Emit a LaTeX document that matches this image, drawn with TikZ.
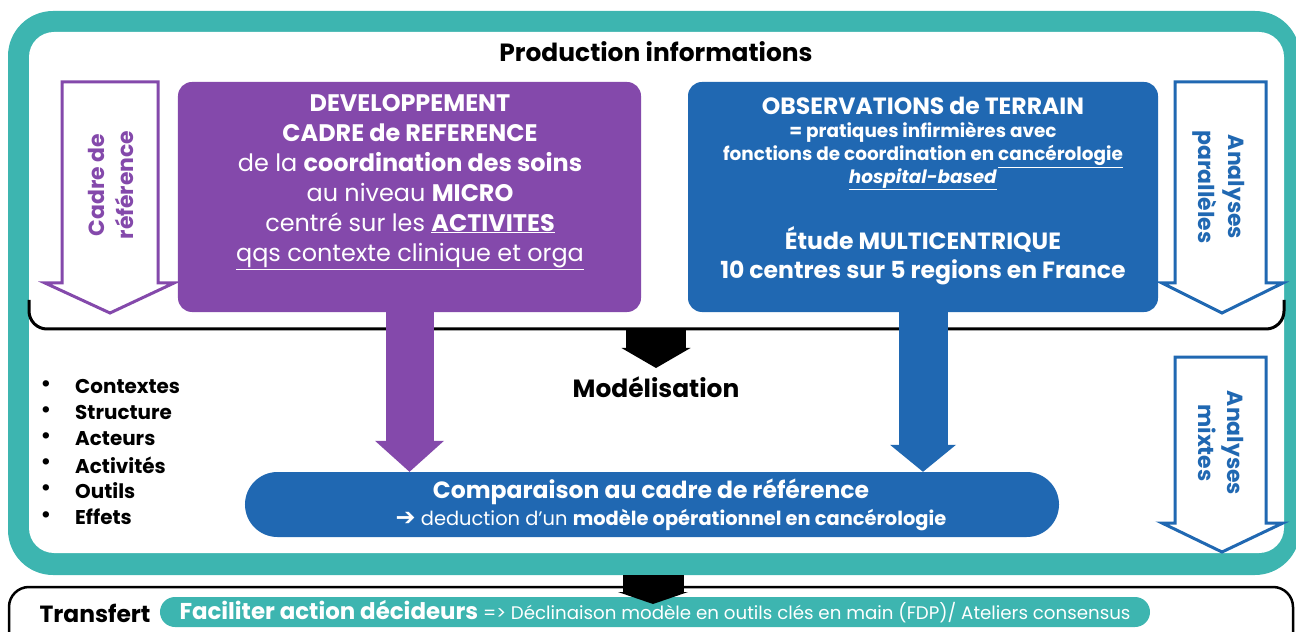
\documentclass[tikz,border=0pt]{standalone}
\usepackage{fontspec}
\setmainfont{Poppins}
\newfontfamily\arrowfont{DejaVu Sans}
\usetikzlibrary{positioning, arrows.meta, shapes.misc, calc}
\definecolor{tealband}{HTML}{3DB5B0}
\definecolor{refpurple}{HTML}{8449AB}
\definecolor{fieldblue}{HTML}{2068B2}
\tikzset{
  panel/.style    = {rectangle, rounded corners=14bp, inner sep=0pt},
  pill/.style     = {rounded rectangle, inner sep=0pt},
  boxtext/.style  = {font=\fontsize{24}{30}\selectfont, text=white, align=center, inner sep=0pt},
  boxhead/.style  = {font=\bfseries\fontsize{23.6}{29}\selectfont, text=white, align=center, inner sep=0pt},
  boxsmall/.style = {font=\bfseries\fontsize{18.5}{23}\selectfont, text=white, align=center, inner sep=0pt},
  title/.style    = {font=\bfseries\fontsize{25}{28}\selectfont, inner sep=0pt},
  listitem/.style = {font=\bfseries\fontsize{20}{22}\selectfont, inner sep=0pt, anchor=west},
  rotlabel/.style = {font=\bfseries\fontsize{22}{30}\selectfont, align=center, inner sep=0pt},
  hollow/.style   = {line width=3bp, fill=white, line join=miter},
  fat/.style n args = {3}{line width=#1, -{Triangle[width=#2 0 0, length=#3 0 0, line width=0pt 0 0]}},
}

\begin{document}
\begin{tikzpicture}[x=1bp, y=-1bp]
\useasboundingbox (0,0) rectangle (1296,632);

% Teal frame round the production part
\fill[tealband, rounded corners=45bp] (8,11) rectangle (1300,575);
\fill[white, rounded corners=25bp] (29,32) rectangle (1284,553);
\node (prod) [title] at (656,52) {Production informations};

% Separator under the two panels
\draw[line width=3bp, rounded corners=18bp] (29,300) |- (1284,329) -- (1284,300);
\coordinate (sepmid) at (656,329);

% Hollow side arrows
\draw[hollow, draw=refpurple] (62,82) -- (158,82) -- (158,283) -- (174,283) -- (110,313) -- (45,283) -- (62,283) -- cycle;
\node (cadre) [rotlabel, rotate=90, text=refpurple] at (111,185) {Cadre de\\référence};
\draw[hollow, draw=fieldblue] (1175,82) -- (1266,82) -- (1266,283) -- (1283,283) -- (1222,313) -- (1162,283) -- (1175,283) -- cycle;
\node (paral) [rotlabel, rotate=-90, text=fieldblue] at (1219,187) {Analyses\\parallèles};
\draw[hollow, draw=fieldblue] (1175,357) -- (1266,357) -- (1266,523) -- (1283,523) -- (1222,552) -- (1162,523) -- (1175,523) -- cycle;
\node (mixtes) [rotlabel, rotate=-90, text=fieldblue] at (1221,443) {Analyses\\mixtes};

% Reference framework panel (left)
\node (dev) [panel, fill=refpurple, minimum width=463bp, minimum height=230bp] at (409.5,197) {};
\node (devtxt) [boxtext] at (410,182) {\textbf{DEVELOPPEMENT}\\ \textbf{CADRE de REFERENCE}\\ de la \textbf{coordination des soins}\\ au niveau \textbf{MICRO}\\ centré sur les \underline{\textbf{ACTIVITES}}\\ \underline{qqs contexte clinique et orga}};

% Field observation panel (right)
\node (obs) [panel, fill=fieldblue, minimum width=470bp, minimum height=230bp] at (923,197) {};
\node (obshead) [boxhead] at (923,106) {OBSERVATIONS de TERRAIN};
\node (obssub) [boxsmall] at (923,156) {= pratiques infirmières avec\\ fonctions de coordination en \underline{cancérologie}\\ \underline{\textit{hospital-based}}};
\node (obsmulti) [boxhead] at (923,255.5) {Étude MULTICENTRIQUE\\ 10 centres sur 5 regions en France};

% Modelling step
\coordinate (modtip) at (656,368);
\draw[fat={60bp}{69bp}{20bp}] (sepmid) -- (modtip);
\node (model) [title] at (656,387) {Modélisation};

% Dimensions list
\foreach \name [count=\i] in {Contextes, Structure, Acteurs, Activités, Outils, Effets} {
  \node (bul\i) [font=\fontsize{26}{26}\selectfont] at (46, 360+26.2*\i) {\textbullet};
  \node (item\i) [listitem] at (75, 360+26.2*\i) {\name};
}

% Comparison pill
\node (comp) [pill, fill=fieldblue, minimum width=814bp, minimum height=65bp] at (652,504.5) {};
\node (comphead) [boxhead] at (651,492) {Comparaison au cadre de référence};
\node (compsub) [text=white, inner sep=0pt, font=\fontsize{19.5}{22}\selectfont] at (671,520) {{\arrowfont\bfseries\fontsize{24}{22}\selectfont ➔} deduction d'un \textbf{modèle opérationnel en cancérologie}};
\draw[draw=refpurple, fat={48bp}{69bp}{31bp}] (dev.south) -- (dev.south |- comp.north);
\draw[draw=fieldblue, fat={49bp}{66bp}{27bp}] (obs.south) -- (obs.south |- comp.north);

% Transfer band
\draw[line width=2.5bp, rounded corners=20bp] (9,587) rectangle (1293,660);
\node (transf) [title, font=\bfseries\fontsize{23.5}{28}\selectfont] at (95,613) {Transfert};
\node (fac) [pill, fill=tealband, text=white, minimum width=990bp, minimum height=30bp] at (655,612) {\fontsize{23}{24}\selectfont\bfseries Faciliter action décideurs \fontsize{18.3}{20}\selectfont\mdseries => Déclinaison modèle en outils clés en main (FDP)/ Ateliers consensus};
\coordinate (teallow) at (653,575);
\coordinate (transtop) at (653,604);
\draw[fat={61bp}{70bp}{12bp}] (teallow) -- (transtop);

\end{tikzpicture}
\end{document}
